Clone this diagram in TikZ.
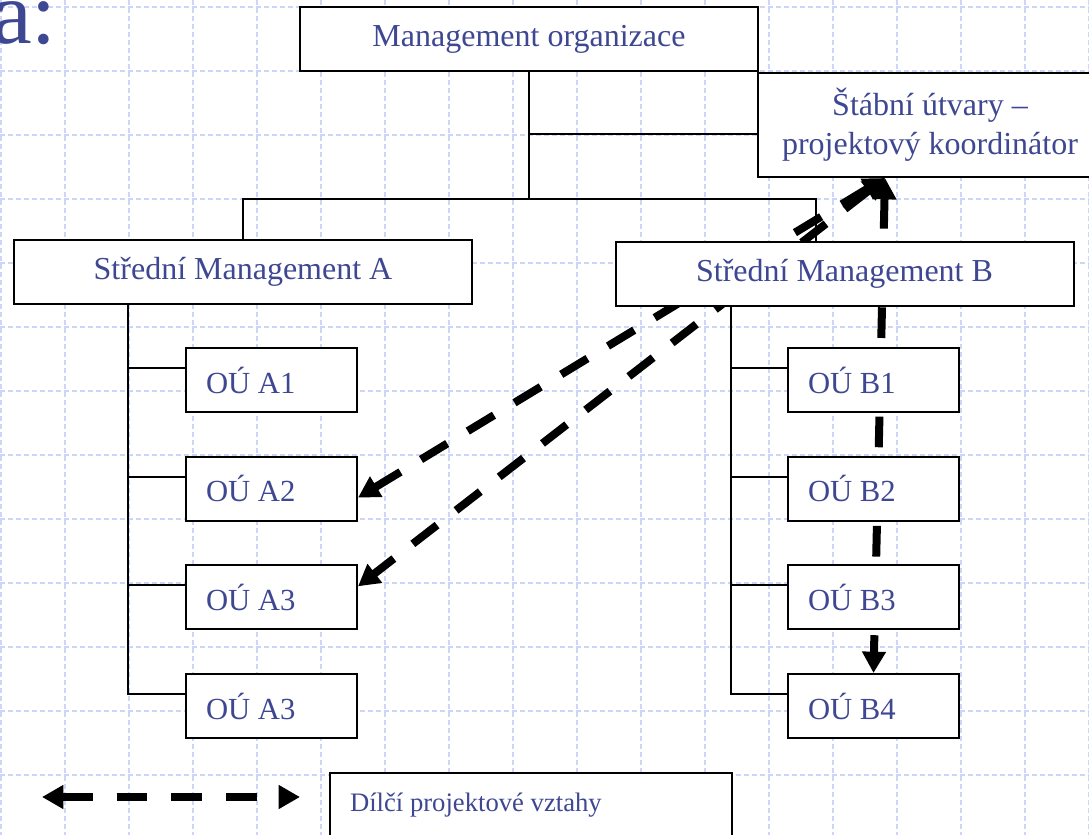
\documentclass[tikz,border=0pt]{standalone}
\usepackage{fontspec}
\setmainfont{Liberation Serif}
\usetikzlibrary{arrows.meta,positioning,calc}
\definecolor{tekst}{RGB}{62,71,145}
\definecolor{gitterfarve}{RGB}{205,213,248}
\pgfdeclarelayer{gitter}
\pgfdeclarelayer{pile}
\pgfsetlayers{gitter,pile,main}
\tikzset{
    %Define standard arrow tip
    >={Triangle[length=16pt,width=17pt]},
    %Define style for boxes
    punktrect/.style={
           rectangle,
           draw=black, line width=1.5pt,
           fill=white,
           text=tekst,
           font=\fontsize{24}{29}\selectfont,
           minimum width=343.5pt,
           minimum height=48pt,
           align=center},
    ouboks/.style={
           punktrect,
           font=\fontsize{23}{27}\selectfont,
           minimum width=128.25pt,
           text width=98.25pt,
           inner xsep=15pt,
           align=flush left},
    % Define arrow style
    pil/.style={
           <->,
           line width=6pt,
           dash pattern=on 23pt off 18pt},
    linje/.style={line width=1.5pt},
    gitter/.style={gitterfarve, line width=1pt, dash pattern=on 4pt off 2pt}
}
\begin{document}
\begin{tikzpicture}[x=0.75pt,y=-0.75pt,node distance=32pt]
\useasboundingbox (0,0) rectangle (1089,835);
% background grid
\begin{pgfonlayer}{gitter}
\foreach \x in {1,65,...,1089} \draw[gitter] (\x,0) -- (\x,835);
\foreach \y in {7,71,...,775} \draw[gitter] (0,\y) -- (1089,\y);
\end{pgfonlayer}
\node[text=tekst,font=\fontsize{67}{67}\selectfont,anchor=base west,inner sep=0pt] (titel) at (-8,43) {a:};
% boxes
\node[punktrect] (mgmt) at (529,39) {Management organizace};
\node[punktrect,minimum width=258pt,minimum height=78pt] (stab) at (930,125) {Štábní útvary –\\projektový koordinátor};
\node[punktrect] (smA) at (243,272) {Střední Management A};
\node[punktrect] (smB) at (844.5,274) {Střední Management B};
\node[ouboks] (A1) at (271.5,380) {OÚ A1};
\node[ouboks, below=of A1] (A2) {OÚ A2};
\node[ouboks, below=of A2] (A3) {OÚ A3};
\node[ouboks, below=of A3] (A4) {OÚ A3};
\node[ouboks] (B1) at (873.5,380) {OÚ B1};
\node[ouboks, below=of B1] (B2) {OÚ B2};
\node[ouboks, below=of B2] (B3) {OÚ B3};
\node[ouboks, below=of B3] (B4) {OÚ B4};
\node[punktrect, font=\fontsize{20}{24}\selectfont, anchor=north west, minimum width=301.5pt, text width=271.5pt, inner xsep=15pt, align=flush left] (legende) at (329,772) {Dílčí projektové vztahy};
% tree lines
\draw[linje] (mgmt.south) -- ++(0,127) coordinate (knude);
\coordinate (stabF) at ($(stab.west)+(0,9)$);
\draw[linje] (mgmt.south |- stabF) -- (stabF);
\coordinate (smBtop) at ($(smB.north west)+(201,0)$);
\draw[linje] (smA.north) |- (smBtop |- knude) -- (smBtop);
\coordinate (Astamme) at ($(smA.south west)+(115,0)$);
\coordinate (Bstamme) at ($(smB.south west)+(116,0)$);
\foreach \b in {A1,A2,A3,A4,B1,B2,B3,B4}
  \coordinate (\b-s) at ($(\b.north west)+(0,21)$);
\draw[linje] (Astamme) |- (A4-s);
\draw[linje] (Bstamme) |- (B4-s);
\foreach \b in {A1,A2,A3}
  \draw[linje] (Astamme |- \b-s) -- (\b-s);
\foreach \b in {B1,B2,B3}
  \draw[linje] (Bstamme |- \b-s) -- (\b-s);
% dashed relations
\coordinate (sk) at ($(stab.south west)+(128,0)$);
\coordinate (A2p) at ($(A2.east)+(0,9)$);
\coordinate (A3p) at ($(A3.east)+(0,-11)$);
\coordinate (lv) at (42,797);
\coordinate (lh) at (300,797);
\begin{pgfonlayer}{pile}
\draw[pil] (sk) -- (A2p);
\draw[pil] (sk) -- (A3p);
\draw[pil] (sk) -- (B4.north);
\draw[pil] (lv) -- (lh);
\end{pgfonlayer}
\end{tikzpicture}
\end{document}
